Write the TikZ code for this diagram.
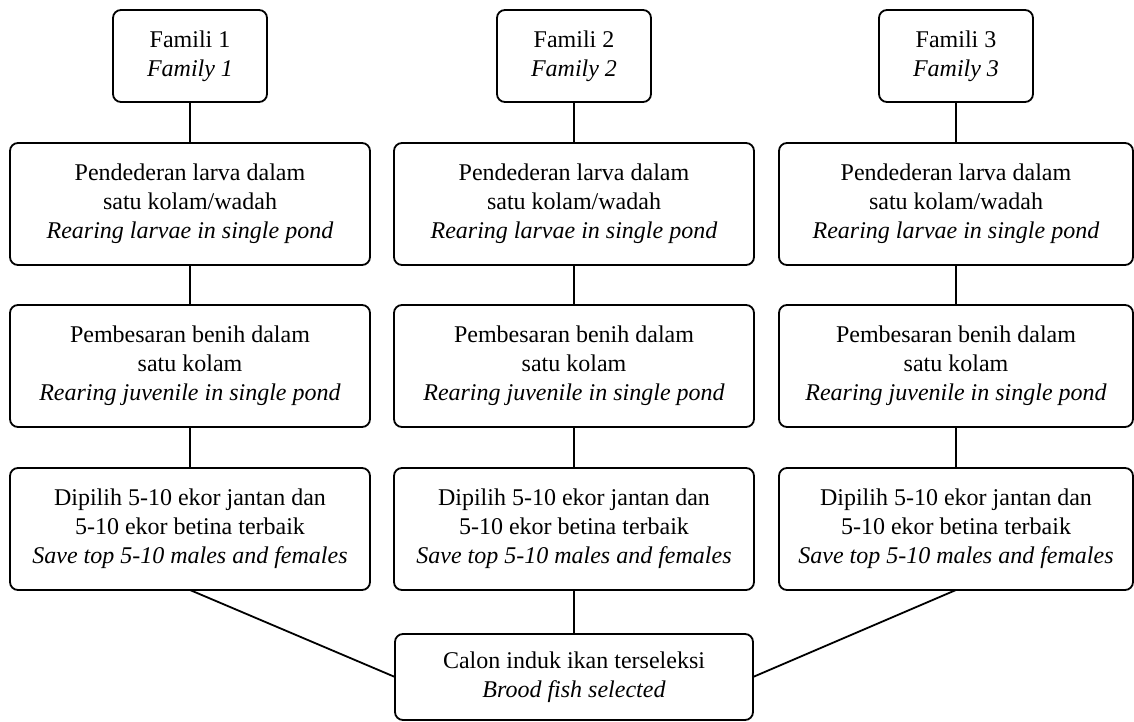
\documentclass[tikz,border=0pt]{standalone}
\usepackage{fontspec}
\setmainfont{Liberation Serif}
\begin{document}
\begin{tikzpicture}[x=0.5pt, y=-0.5pt, line width=0.9pt, font=\fontsize{12}{14.5}\selectfont,
    kotak/.style={draw, rounded corners=4pt, align=center, inner sep=0pt, outer sep=0pt, fill=white},
    famili/.style={kotak, minimum width=77pt, minimum height=46pt},
    tahap/.style={kotak, minimum width=180pt, minimum height=61pt},
    tahapkanan/.style={kotak, minimum width=177pt, minimum height=61pt},
    induk/.style={kotak, minimum width=179pt, minimum height=43pt}]
        \useasboundingbox (0,0) rectangle (1134,722);
        % baris famili
        \node[famili] (f1) at (190, 56) {Famili 1\\\textit{Family 1}};
        \node[famili] (f2) at (574, 56) {Famili 2\\\textit{Family 2}};
        \node[famili] (f3) at (956, 56) {Famili 3\\\textit{Family 3}};
        % pendederan
        \node[tahap] (a1) at (190, 204) {Pendederan larva dalam\\satu kolam/wadah\\\textit{Rearing larvae in single pond}};
        \node[tahap] (a2) at (574, 204) {Pendederan larva dalam\\satu kolam/wadah\\\textit{Rearing larvae in single pond}};
        \node[tahapkanan] (a3) at (956, 204) {Pendederan larva dalam\\satu kolam/wadah\\\textit{Rearing larvae in single pond}};
        % pembesaran
        \node[tahap] (b1) at (190, 366) {Pembesaran benih dalam\\satu kolam\\\textit{Rearing juvenile in single pond}};
        \node[tahap] (b2) at (574, 366) {Pembesaran benih dalam\\satu kolam\\\textit{Rearing juvenile in single pond}};
        \node[tahapkanan] (b3) at (956, 366) {Pembesaran benih dalam\\satu kolam\\\textit{Rearing juvenile in single pond}};
        % seleksi
        \node[tahap] (c1) at (190, 529) {Dipilih 5-10 ekor jantan dan\\5-10 ekor betina terbaik\\\textit{Save top 5-10 males and females}};
        \node[tahap] (c2) at (574, 529) {Dipilih 5-10 ekor jantan dan\\5-10 ekor betina terbaik\\\textit{Save top 5-10 males and females}};
        \node[tahapkanan] (c3) at (956, 529) {Dipilih 5-10 ekor jantan dan\\5-10 ekor betina terbaik\\\textit{Save top 5-10 males and females}};
        % calon induk
        \node[induk] (ci) at (574, 677) {Calon induk ikan terseleksi\\\textit{Brood fish selected}};

        \draw (f1) -- (a1) (a1) -- (b1) (b1) -- (c1);
        \draw (f2) -- (a2) (a2) -- (b2) (b2) -- (c2) (c2) -- (ci);
        \draw (f3) -- (a3) (a3) -- (b3) (b3) -- (c3);
        \draw (c1.south) -- (ci.west);
        \draw (c3.south) -- (ci.east);
    \end{tikzpicture}
\end{document}
